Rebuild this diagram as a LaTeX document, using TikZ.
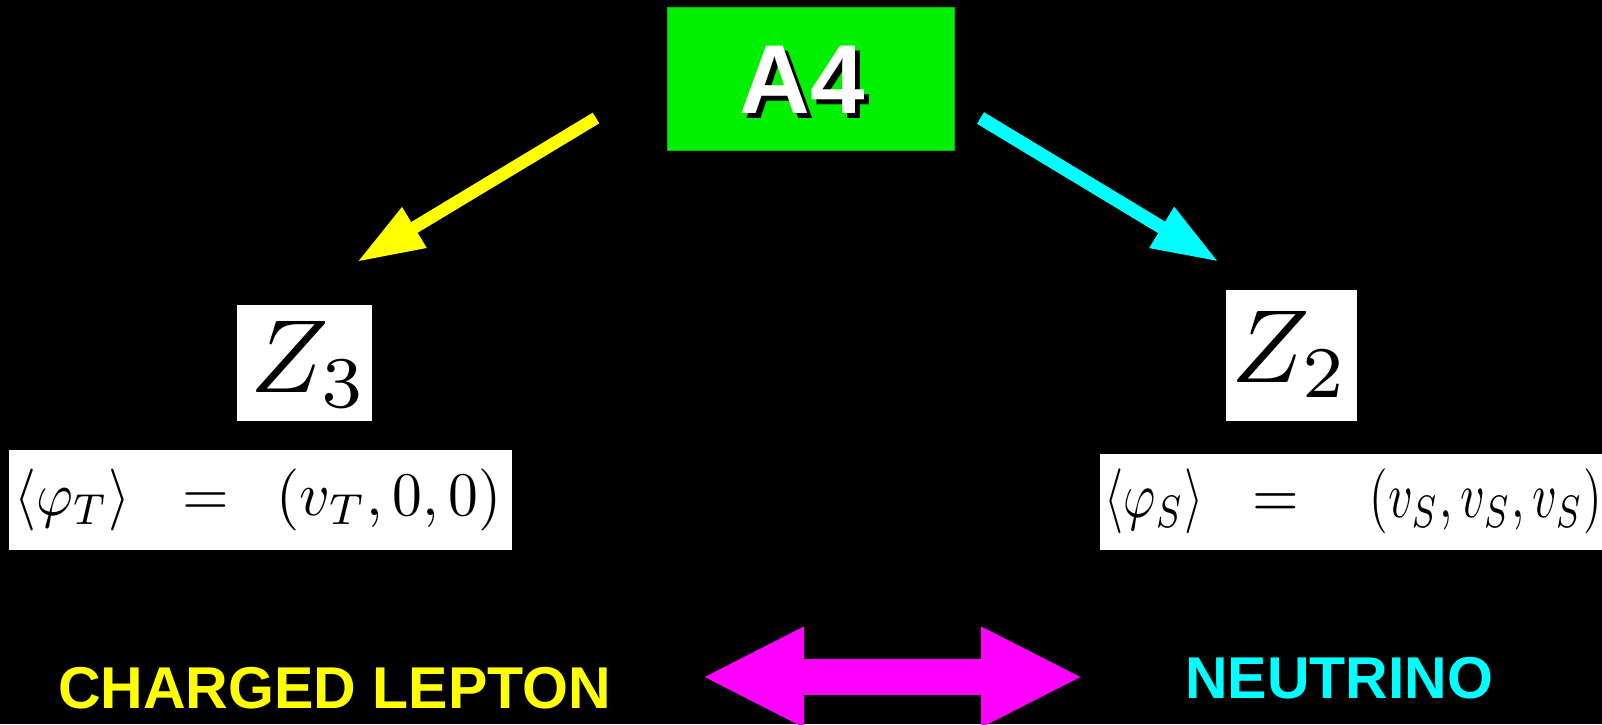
\documentclass[tikz,border=0pt]{standalone}
\usepackage{graphicx}
\usepackage{fontspec}
\newfontfamily\lsans{Liberation Sans}
\usetikzlibrary{arrows.meta}
\definecolor{agreen}{RGB}{0,240,0}
\definecolor{agreenb}{RGB}{0,190,0}
\definecolor{ayellow}{RGB}{255,255,0}
\definecolor{acyan}{RGB}{0,255,255}
\definecolor{amagenta}{RGB}{255,0,255}
\tikzset{fattip/.tip={Triangle[length=67pt,width=44pt]},
  bigfattip/.tip={Triangle[length=102pt,width=93pt]}}
\begin{document}
\begin{tikzpicture}[x=1pt,y=-1pt,
  wbox/.style={fill=white, inner sep=0pt, draw=none},
  lbl/.style={inner sep=0pt, anchor=base west, font=\lsans\bfseries\fontsize{59}{70}\selectfont},
  a4font/.style={inner sep=0pt, anchor=base, font=\lsans\bfseries\fontsize{98}{110}\selectfont},
  zfont/.style={inner sep=0pt, anchor=base},
  eqpart/.style={inner sep=0pt}]
\fill[black] (0,0) rectangle (1602,724);
\useasboundingbox (0,0) rectangle (1602,724);

% A4 box
\node[fill=agreen, draw=agreenb, line width=1pt, minimum width=287pt, minimum height=143pt, inner sep=0pt] (a4) at (810.5,78.5) {};
\node[a4font, text=black] (a4s) at (807.5,118) {A4};
\node[a4font, text=white] (a4t) at (802.5,113) {A4};

% Z3 / Z2 boxes
\node[wbox, minimum width=135pt, minimum height=116pt] (z3box) at (304.5,363) {};
\node[zfont] (z3) at (309,392) {\scalebox{10.4}{$Z_3$}};
\node[wbox, minimum width=131pt, minimum height=131pt] (z2box) at (1291.5,355.5) {};
\node[zfont] (z2) at (1290,382) {\scalebox{10.4}{$Z_2$}};

% left equation
\node[wbox, minimum width=503pt, minimum height=100pt] (eqlbox) at (260.5,500) {};
\node[eqpart, anchor=base west] (eql1) at (14,515.5) {\resizebox{116pt}{46.5pt}{$\langle\varphi_T\rangle$}};
\node[eqpart, anchor=base] (eql2) at (206,515.5) {\scalebox{6}[6.2]{$=$}};
\node[eqpart, anchor=base east] (eql3) at (502,515.5) {\resizebox{225pt}{46.5pt}{$(v_T,0,0)$}};

% right equation
\node[wbox, minimum width=502pt, minimum height=96pt] (eqrbox) at (1351,502) {};
\node[eqpart, anchor=base west] (eqr1) at (1104,517.8) {\resizebox{99pt}{48.75pt}{$\langle\varphi_S\rangle$}};
\node[eqpart, anchor=base] (eqr2) at (1275.5,517.8) {\scalebox{6}[6.5]{$=$}};
\node[eqpart, anchor=base east] (eqr3) at (1602,517.8) {\resizebox{232pt}{48.75pt}{$(v_S,v_S,v_S)$}};

% arrows
\coordinate (yt) at (596,118);
\coordinate (yh) at (357,262);
\draw[ayellow, line width=12.5pt, -{fattip}] (yt) -- (yh);
\coordinate (ct) at (980.5,118);
\coordinate (ch) at (1219,262);
\draw[acyan, line width=13.5pt, -{fattip}] (ct) -- (ch);
\coordinate (ml) at (702,677);
\coordinate (mr) at (1083,677);
\draw[amagenta, line width=36pt, {bigfattip}-{bigfattip}] (ml) -- (mr);

% labels
\node[lbl, text=ayellow] (cl) at (58,708) {CHARGED LEPTON};
\node[lbl, text=acyan] (nu) at (1185,698) {NEUTRINO};
\end{tikzpicture}
\end{document}
